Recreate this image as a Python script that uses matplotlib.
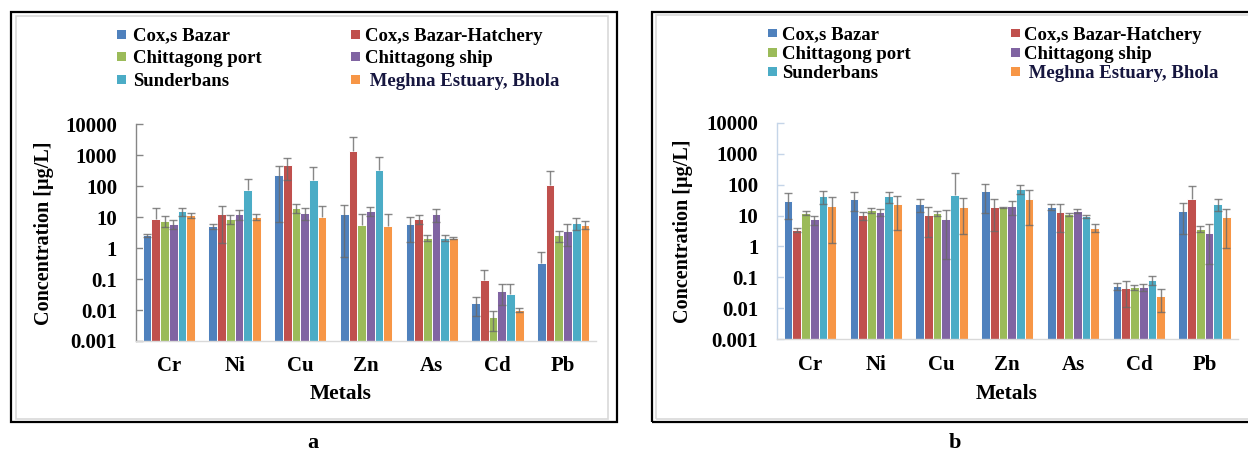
import numpy as np
import matplotlib
matplotlib.use('Agg')
import matplotlib.pyplot as plt
from matplotlib.patches import Rectangle
from matplotlib.ticker import NullLocator

metals = ['Cr', 'Ni', 'Cu', 'Zn', 'As', 'Cd', 'Pb']
sites = ['Cox,s Bazar', 'Cox,s Bazar-Hatchery', 'Chittagong port',
         'Chittagong ship', 'Sunderbans', ' Meghna Estuary, Bhola']
colors = ['#4F81BD', '#C0504D', '#9BBB59', '#8064A2', '#4BACC6', '#F79646']
ytick_vals = [0.001, 0.01, 0.1, 1, 10, 100, 1000, 10000]
ytick_labels = ['0.001', '0.01', '0.1', '1', '10', '100', '1000', '10000']

# panel a: mean and SD per site (rows follow `sites`), columns follow `metals`
mean_a = [
    [2.6, 5.0, 232, 12.5, 5.8, 0.0164, 0.336],
    [8.8, 12.5, 500, 1380, 8.8, 0.093, 110],
    [7.8, 8.8, 20, 5.7, 2.2, 0.0058, 2.56],
    [6.1, 12.5, 13.8, 16.4, 12.8, 0.042, 3.53],
    [15.6, 76, 160, 337, 2.2, 0.0336, 6.6],
    [11.6, 10.3, 10.3, 5.0, 2.15, 0.0102, 5.7],
]
sd_a = [
    [0.3, 0.9, 225, 12, 4.2, 0.010, 0.4],
    [10.7, 11, 340, 2420, 2.8, 0.107, 195],
    [3.0, 2.8, 6, 6.8, 0.55, 0.0037, 1.0],
    [1.9, 4.3, 5.7, 5.6, 5.8, 0.027, 2.4],
    [4.9, 100, 270, 570, 0.5, 0.035, 2.7],
    [1.9, 1.9, 13.5, 8.1, 0.15, 0.0014, 1.7],
]

# panel b
mean_b = [
    [30, 35, 23.4, 60, 19.2, 0.0533, 13.6],
    [3.5, 10.3, 10.3, 18.7, 12.9, 0.0449, 35],
    [12.3, 14.6, 11.7, 18.3, 10.9, 0.0483, 3.73],
    [7.5, 13.2, 7.5, 20.2, 14.3, 0.0495, 2.77],
    [41.5, 41.5, 44.7, 73.5, 9.35, 0.0814, 24],
    [21, 22.9, 19.2, 35, 4.0, 0.0247, 8.7],
]
sd_b = [
    [22, 21, 10.6, 48, 4.2, 0.013, 11],
    [0.6, 2.9, 8.2, 15.5, 10, 0.034, 52],
    [2, 2.4, 2.2, 0.9, 1.1, 0.0078, 0.8],
    [2.5, 3.3, 7.1, 9.5, 1.9, 0.0135, 2.5],
    [18.5, 15.5, 185, 25, 1.25, 0.026, 10],
    [19.7, 19.6, 16.6, 30, 1.15, 0.017, 7.8],
]

W, H = 1248, 453
plt.rcParams['font.family'] = ['Liberation Serif', 'DejaVu Serif']
plt.rcParams['font.weight'] = 'bold'
fig = plt.figure(figsize=(W / 100, H / 100), dpi=100)


def fx(px):
    return px / W


def fy(py):
    return 1 - py / H


def add_axes_px(left, top, right, bottom):
    return fig.add_axes([fx(left), fy(bottom), (right - left) / W, (bottom - top) / H])


def draw_panel(ax, means, sds, yaxis_color):
    x = np.arange(len(metals))
    step = 0.1324
    ax.set_yscale('log')
    ecol = '#6a6a6a'
    for i, col in enumerate(colors):
        v = np.array(means[i], dtype=float)
        s = np.array(sds[i], dtype=float)
        xi = x + (i - 2.5) * step
        ax.bar(xi, v, width=step, color=col, edgecolor='white', linewidth=0.7, zorder=2)
        ok = s < v
        low = np.where(ok, v - s, v)
        ax.vlines(xi, low, v + s, color=ecol, lw=1, alpha=0.8, zorder=3)
        ax.plot(xi, v + s, ls='none', marker='_', ms=6, mew=1, color=ecol, alpha=0.8, zorder=3)
        ax.plot(xi[ok], (v - s)[ok], ls='none', marker='_', ms=6, mew=1, color=ecol,
                alpha=0.8, zorder=3)
    ax.set_ylim(0.001, 10000)
    ax.set_xlim(-0.5, 6.5)
    ax.set_yticks(ytick_vals, ytick_labels)
    ax.yaxis.set_minor_locator(NullLocator())
    ax.set_xticks(x, metals)
    ax.tick_params(axis='y', direction='in', length=5, width=1, color=yaxis_color,
                   pad=13.5, labelsize=15)
    ax.tick_params(axis='x', length=0, pad=11, labelsize=15)
    for side in ['top', 'right']:
        ax.spines[side].set_visible(False)
    ax.spines['left'].set_color(yaxis_color)
    ax.spines['left'].set_linewidth(1)
    ax.spines['bottom'].set_color('#d9d9d9')
    ax.spines['bottom'].set_linewidth(1)


def draw_legend(patch_x, text_x, baselines, size):
    for i, (site, col) in enumerate(zip(sites, colors)):
        c, r = i % 2, i // 2
        yc = baselines[r] - 6.5
        fig.add_artist(Rectangle((fx(patch_x[c]), fy(yc + size / 2)), size / W, size / H,
                                 transform=fig.transFigure, color=col, lw=0))
        tcol = '#16163f' if i == 5 else 'black'
        fig.text(fx(text_x[c]), fy(baselines[r]), site, fontsize=13.5, weight='bold',
                 va='baseline', ha='left', color=tcol)


def frame(left, top, right, bottom, inner):
    fig.add_artist(Rectangle((fx(left), fy(bottom)), (right - left) / W, (bottom - top) / H,
                             transform=fig.transFigure, fill=False, ec='black', lw=1.6))
    il, it, ir, ib = inner
    fig.add_artist(Rectangle((fx(il), fy(ib)), (ir - il) / W, (ib - it) / H,
                             transform=fig.transFigure, fill=False, ec='#d9d9d9', lw=1.2))


# panel a
frame(11, 12, 617, 422, (16, 16, 608, 419))
ax_a = add_axes_px(136, 124.3, 596, 341)
draw_panel(ax_a, mean_a, sd_a, '#868686')
draw_legend((117, 351), (133, 365), (40.7, 63.3, 86), 9)
fig.text(fx(44), fy(233), 'Concentration [µg/L]', rotation=90, fontsize=14.5,
         weight='bold', ha='center', va='center')
fig.text(fx(341), fy(394), 'Metals', fontsize=15.5, weight='bold', ha='center', va='center')
fig.text(fx(313), fy(443), 'a', fontsize=16, weight='bold', ha='center', va='center')

# panel b
frame(652, 12, 1262, 422, (656, 15, 1262, 419))
ax_b = add_axes_px(777, 122.7, 1237.5, 339.3)
draw_panel(ax_b, mean_b, sd_b, '#c5d5e8')
draw_legend((768, 1011), (782, 1024), (39.5, 59, 78), 8.5)
fig.text(fx(683), fy(231), 'Concentration [µg/L]', rotation=90, fontsize=14.5,
         weight='bold', ha='center', va='center')
fig.text(fx(1007), fy(394), 'Metals', fontsize=15.5, weight='bold', ha='center', va='center')
fig.text(fx(955), fy(443), 'b', fontsize=16, weight='bold', ha='center', va='center')

fig.savefig('out.png', dpi=100)
